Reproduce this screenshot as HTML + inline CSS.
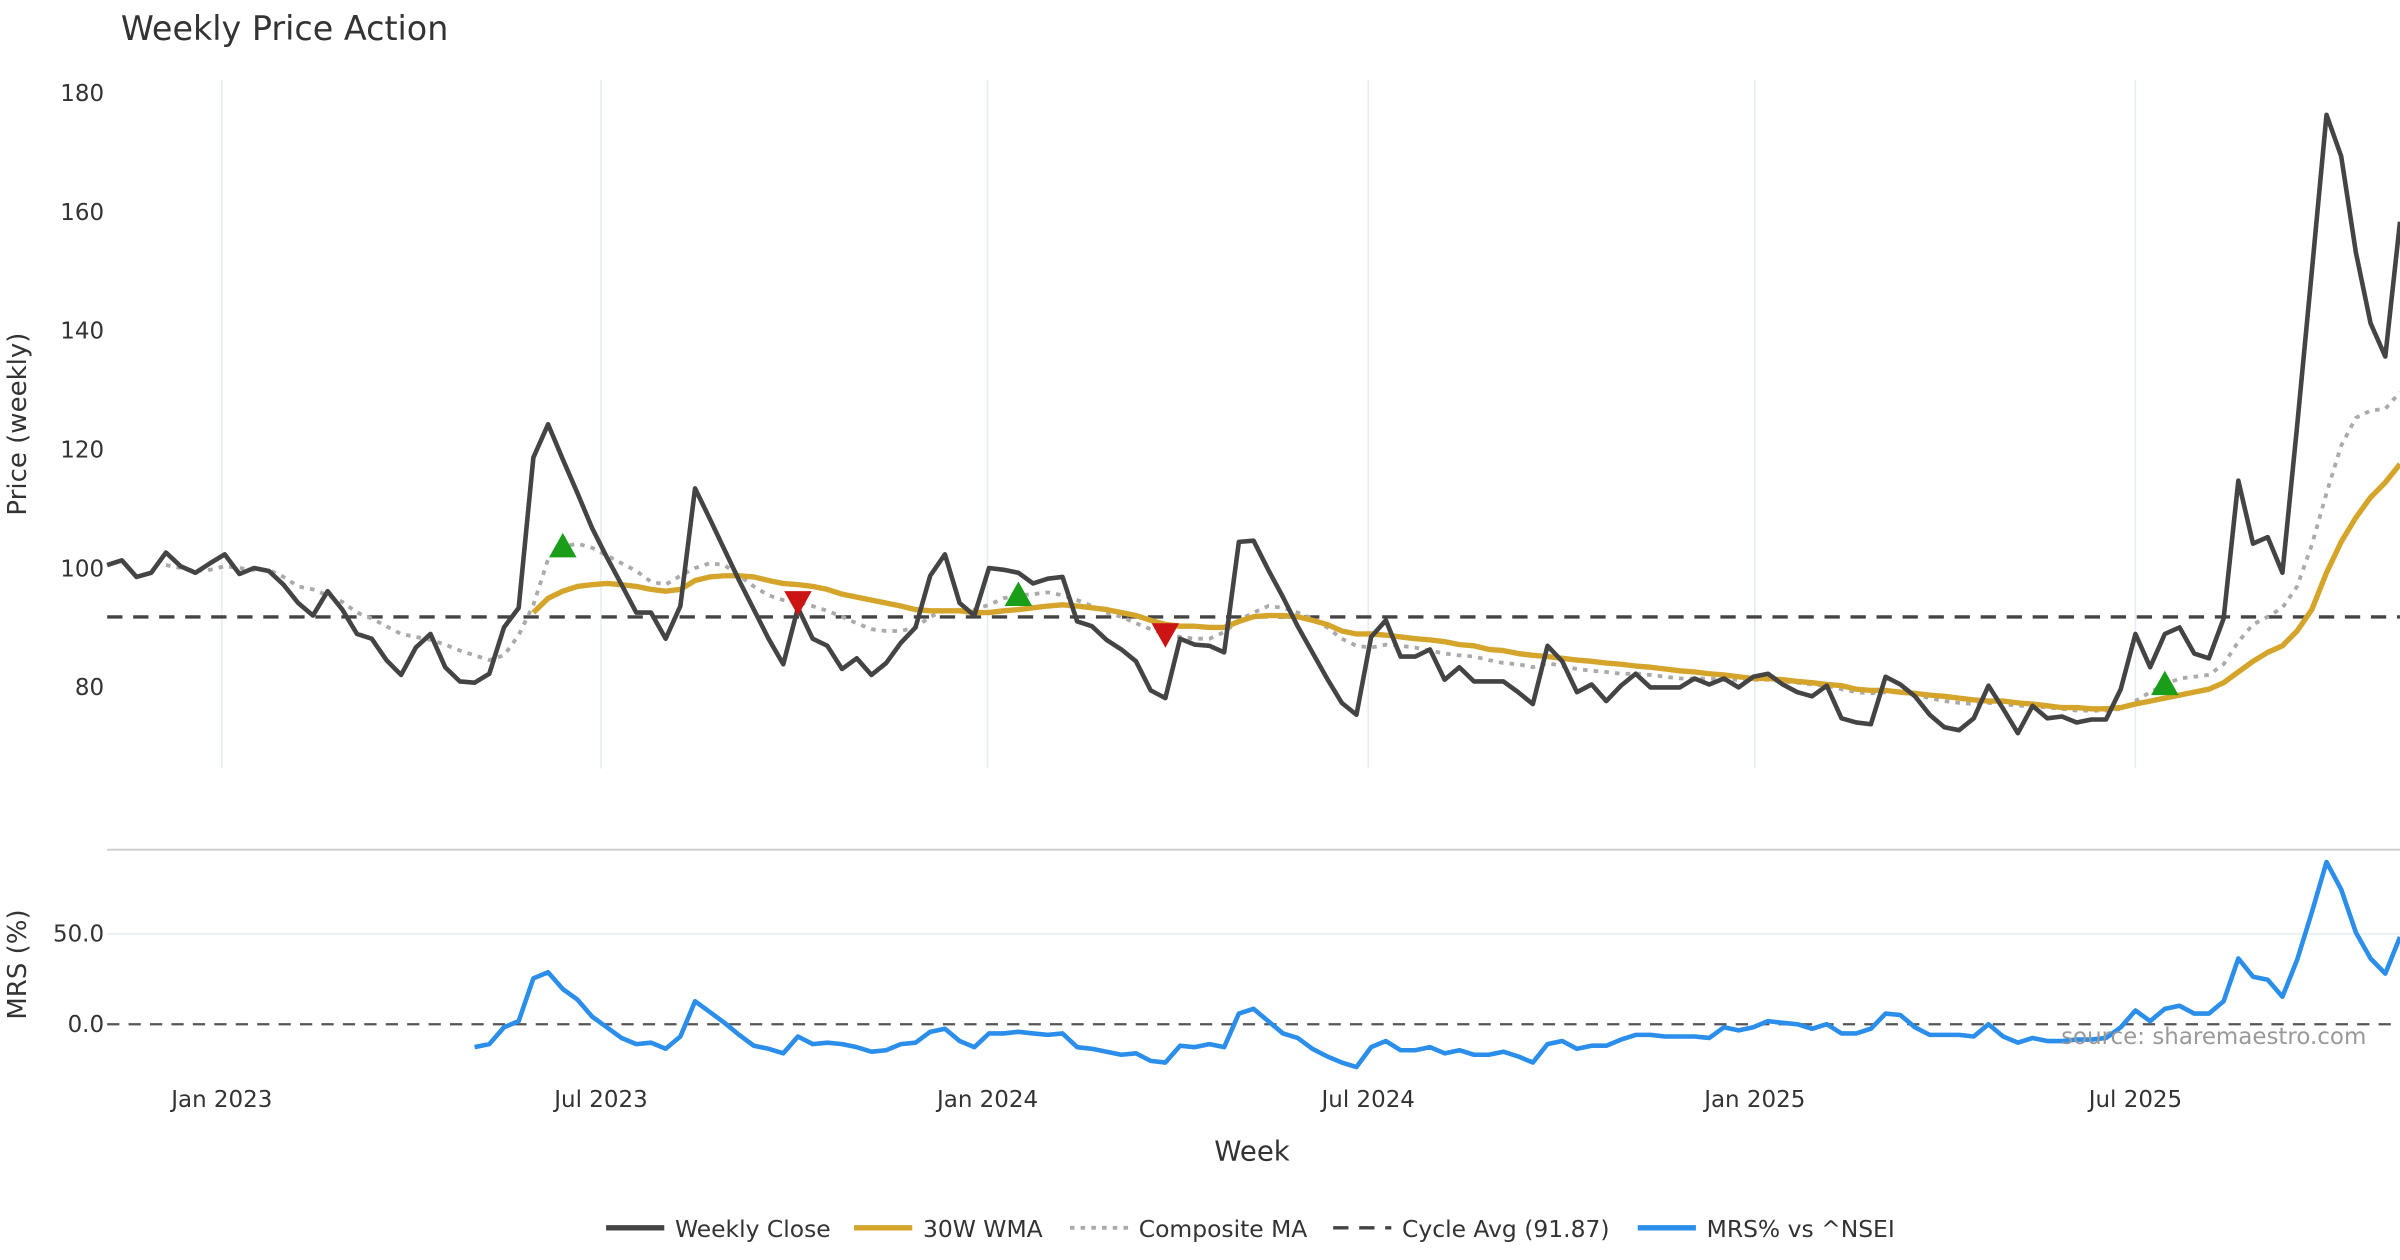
<!DOCTYPE html>
<html><head><meta charset="utf-8"><style>
html,body{margin:0;padding:0;background:#fff}
svg{display:block;font-family:"DejaVu Sans","Liberation Sans",sans-serif}
</style></head><body>
<svg id="chart" width="2400" height="1260" viewBox="0 0 1568 823" preserveAspectRatio="none" xmlns="http://www.w3.org/2000/svg">
<text x="79" y="26" font-size="21.8" fill="#333">Weekly Price Action</text>
<g id="grid"></g>
<g id="axes"></g>
<g id="series"></g>
<text transform="translate(17,277) rotate(-90)" text-anchor="middle" font-size="17" fill="#333">Price (weekly)</text>
<text transform="translate(17,630) rotate(-90)" text-anchor="middle" font-size="17" fill="#333">MRS (%)</text>
<text x="818" y="758" text-anchor="middle" font-size="18" fill="#333">Week</text>
<text x="1546" y="682" text-anchor="end" font-size="15" fill="#999">source: sharemaestro.com</text>
<g id="legend"></g>
</svg>
<script>
const closeVals=[100.6,101.4,98.6,99.3,102.7,100.4,99.3,100.9,102.4,99.1,100.1,99.6,97.3,94.2,92.1,96.2,93.1,89.0,88.2,84.6,82.1,86.7,89.0,83.4,81.0,80.8,82.3,90.1,93.4,118.7,124.3,118.4,112.7,106.8,101.9,97.3,92.6,92.6,88.2,93.7,113.5,108.4,103.2,98.0,93.1,88.2,83.9,93.4,88.2,87.0,83.1,84.9,82.1,84.1,87.5,90.1,98.8,102.4,94.2,92.1,100.1,99.8,99.3,97.5,98.3,98.6,91.1,90.3,88.0,86.4,84.4,79.5,78.2,88.2,87.2,87.0,85.9,104.5,104.7,99.8,95.2,90.3,85.9,81.5,77.4,75.4,88.5,91.3,85.2,85.2,86.4,81.3,83.4,81.0,81.0,81.0,79.2,77.2,87.0,84.4,79.2,80.5,77.7,80.3,82.3,80.0,80.0,80.0,81.5,80.5,81.5,80.0,81.8,82.3,80.5,79.2,78.5,80.3,74.8,74.1,73.8,81.8,80.5,78.5,75.4,73.3,72.8,74.8,80.3,76.4,72.3,76.9,74.8,75.1,74.1,74.6,74.6,79.7,89.0,83.4,89.0,90.1,85.7,84.9,91.6,114.8,104.2,105.3,99.3,124.0,150.0,176.4,169.4,153.2,141.3,135.7,158.4];
const wmaVals=[92.6,95.0,96.2,97.0,97.3,97.5,97.3,97.0,96.5,96.2,96.5,98.0,98.6,98.8,98.8,98.6,98.0,97.5,97.3,97.0,96.5,95.7,95.2,94.7,94.2,93.7,93.1,92.9,92.9,92.9,92.6,92.6,92.9,93.1,93.4,93.7,93.9,93.7,93.4,93.1,92.6,92.1,91.3,90.6,90.3,90.3,90.1,90.1,91.1,91.9,92.1,92.1,91.9,91.3,90.6,89.5,89.0,89.0,88.8,88.5,88.2,88.0,87.7,87.2,87.0,86.4,86.2,85.7,85.4,85.2,84.9,84.6,84.4,84.1,83.9,83.6,83.4,83.1,82.8,82.6,82.3,82.1,81.8,81.5,81.5,81.3,81.0,80.8,80.5,80.3,79.7,79.5,79.5,79.2,79.0,78.7,78.5,78.2,77.9,77.7,77.7,77.4,77.2,76.9,76.6,76.6,76.4,76.4,76.6,77.2,77.7,78.2,78.7,79.2,79.7,80.8,82.6,84.4,85.9,87.0,89.5,93.1,99.3,104.5,108.6,112.0,114.5,117.6];
const compVals=[100.6,100.1,99.6,99.8,100.4,100.1,99.8,99.8,98.6,97.0,96.5,95.5,94.4,92.6,91.6,90.3,89.0,88.5,88.0,87.2,86.2,85.4,84.6,85.4,88.8,93.9,101.6,103.7,104.2,103.5,102.2,100.9,99.6,97.8,97.3,98.8,100.1,100.9,100.6,98.8,97.0,95.5,94.7,94.4,93.7,92.9,91.9,90.8,89.8,89.5,89.5,90.1,91.9,92.9,92.9,93.1,93.9,95.0,95.5,95.7,96.0,95.5,94.7,93.7,92.6,91.9,90.8,89.8,89.0,88.5,88.2,88.2,89.3,91.3,92.6,93.7,93.4,92.6,91.6,90.1,88.2,87.0,86.7,87.2,87.0,86.7,86.2,85.7,85.4,85.2,84.6,84.1,83.9,83.4,84.1,83.6,83.1,82.8,82.6,82.3,82.3,82.1,81.8,81.5,81.5,81.5,81.3,81.3,81.3,81.3,81.0,80.8,80.5,80.3,79.7,79.2,79.0,79.2,79.2,78.7,78.2,77.7,77.4,77.2,77.4,77.2,76.9,76.9,76.6,76.4,76.1,76.1,76.1,76.4,77.7,79.2,80.5,81.5,81.8,82.1,83.9,87.7,90.6,91.9,93.4,97.0,104.0,112.7,120.7,125.4,126.6,126.9,129.7];
const mrsVals=[-12.7,-11.0,-1.7,1.7,25.4,28.8,19.5,13.6,4.2,-1.7,-7.6,-11.0,-10.2,-13.6,-6.8,12.7,6.8,0.8,-5.9,-11.9,-13.6,-16.1,-6.8,-11.0,-10.2,-11.0,-12.7,-15.2,-14.4,-11.0,-10.2,-4.2,-2.5,-9.3,-12.7,-5.1,-5.1,-4.2,-5.1,-5.9,-5.1,-12.7,-13.6,-15.2,-16.9,-16.1,-20.3,-21.2,-11.9,-12.7,-11.0,-12.7,5.9,8.5,1.7,-5.1,-7.6,-13.6,-17.8,-21.2,-23.7,-12.7,-9.3,-14.4,-14.4,-12.7,-16.1,-14.4,-16.9,-16.9,-15.2,-17.8,-21.2,-11.0,-9.3,-13.6,-11.9,-11.9,-8.5,-5.9,-5.9,-6.8,-6.8,-6.8,-7.6,-1.7,-3.4,-1.7,1.7,0.8,0,-2.5,0,-5.1,-5.1,-2.5,5.9,5.1,-1.7,-5.9,-5.9,-5.9,-6.8,0,-6.8,-10.2,-7.6,-9.3,-9.3,-8.5,-8.5,-7.6,-1.7,7.6,1.7,8.5,10.2,5.9,5.9,12.7,36.4,26.3,24.6,15.2,35.6,61.9,89.8,74.6,50.8,36.4,28.0,48.3];
const buyIdx=[31,62,140];
const sellIdx=[47,72];
const cycleAvg=91.87;
const priceTicks=[80,100,120,140,160,180];
const mrsTicks=[0,50];
const monthLabels=["Jan 2023","Jul 2023","Jan 2024","Jul 2024","Jan 2025","Jul 2025"];
const monthWeeks=[7.8,33.6,59.9,85.8,112.1,138.0];

const N=closeVals.length;
const X0=70,X1=1568;
const xs=i=>X0+(X1-X0)*i/(N-1);
const yP=v=>449-(v-80)*3.88;
const yM=v=>669-v*59/50;
const NS="http://www.w3.org/2000/svg";
function mk(tag,attrs,parent){const e=document.createElementNS(NS,tag);for(const k in attrs)e.setAttribute(k,attrs[k]);parent.appendChild(e);return e;}
const grid=document.getElementById('grid'),axes=document.getElementById('axes'),series=document.getElementById('series'),legend=document.getElementById('legend');

monthWeeks.forEach((w,k)=>{
  const x=xs(w);
  const g=mk('line',{x1:x,x2:x,y1:52,y2:502,stroke:'#e6ecf0','stroke-width':1},grid);
  
  
  const t=mk('text',{x:x,y:723,'text-anchor':'middle','font-size':15,fill:'#333'},axes);
  t.textContent=monthLabels[k];
  
  
});
priceTicks.forEach(v=>{
  const t=mk('text',{x:68,y:yP(v)+5,'text-anchor':'end','font-size':15,fill:'#333'},axes);
  t.textContent=v;
  
  
});
mrsTicks.forEach(v=>{
  if(v!==0){const g=mk('line',{x1:X0,x2:X1,y1:yM(v),y2:yM(v),stroke:'#e6ecf0','stroke-width':1},grid);
  
  }
  const t=mk('text',{x:68,y:yM(v)+5,'text-anchor':'end','font-size':15,fill:'#333'},axes);
  t.textContent=v.toFixed(1);
  
  
});
const sep=mk('line',{x1:X0,x2:X1,y1:555,y2:555,stroke:'#ccc','stroke-width':1.2},grid);


const zl=mk('line',{x1:X0,x2:X1,y1:yM(0),y2:yM(0),stroke:'#555','stroke-width':1.5,'stroke-dasharray':'8,6'},grid);



function path(vals,yf,attrs,name){
  const off=N-vals.length;
  const d=vals.map((v,i)=>(i?'L':'M')+xs(i+off).toFixed(2)+','+yf(v).toFixed(2)).join('');
  const p=mk('path',Object.assign({d:d,fill:'none','stroke-linejoin':'round'},attrs),series);
  
  
}
const cy=mk('line',{x1:X0,x2:X1,y1:yP(cycleAvg),y2:yP(cycleAvg),stroke:'#444','stroke-width':2.2,'stroke-dasharray':'10,7'},series);


path(compVals,yP,{stroke:'#aaa','stroke-width':2.5,'stroke-dasharray':'3,4'},'composite-ma-line');
path(wmaVals,yP,{stroke:'#D4A52A','stroke-width':3.5},'wma-30w-line');
path(closeVals,yP,{stroke:'#444','stroke-width':3},'weekly-close-line');
path(mrsVals,yM,{stroke:'#2A8EEA','stroke-width':3},'mrs-line');

buyIdx.forEach(i=>{
  const x=xs(i),yy=yP(compVals[i-(N-compVals.length)]);
  const t=mk('polygon',{points:`${x-9},${yy+7} ${x+9},${yy+7} ${x},${yy-9}`,fill:'#1a9e1a'},series);
  
  
});
sellIdx.forEach(i=>{
  const x=xs(i),yy=yP(compVals[i-(N-compVals.length)]);
  const t=mk('polygon',{points:`${x-9},${yy-7} ${x+9},${yy-7} ${x},${yy+9}`,fill:'#cc1414'},series);
  
  
});

const leg=[
 {x:396,label:'Weekly Close',stroke:'#444',dash:'',w:3.5},
 {x:558,label:'30W WMA',stroke:'#D4A52A',dash:'',w:3.5},
 {x:699,label:'Composite MA',stroke:'#aaa',dash:'3,4',w:2.5},
 {x:871,label:'Cycle Avg (91.87)',stroke:'#444',dash:'10,7',w:2.2},
 {x:1070,label:'MRS% vs ^NSEI',stroke:'#2A8EEA',dash:'',w:3.5}
];
leg.forEach(l=>{
  const g=mk('g',{},legend);
  
  
  mk('line',{x1:l.x,x2:l.x+38,y1:802,y2:802,stroke:l.stroke,'stroke-width':l.w,'stroke-dasharray':l.dash},g);
  const t=mk('text',{x:l.x+45,y:808,'font-size':15.3,fill:'#333'},g);
  t.textContent=l.label;
});
</script>
</body></html>
